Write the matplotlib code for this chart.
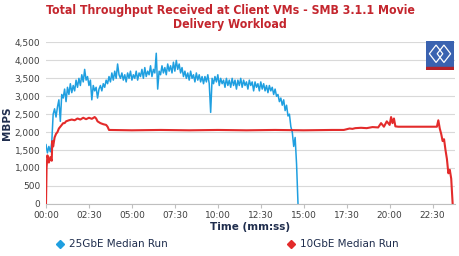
"""Total throughput received at client VMs - SMB 3.1.1 movie delivery workload."""

import matplotlib

matplotlib.use("Agg")
import matplotlib.pyplot as plt
from matplotlib.lines import Line2D
from matplotlib.patches import Polygon, Rectangle
from matplotlib.ticker import FuncFormatter, MultipleLocator

# 25GbE median run, sampled every 5 s (seconds, MBPS)
T_25 = list(range(0, 885, 5))
MBPS_25 = [
    1650, 1420, 1600, 1450, 1700, 2500, 2650, 2420, 2700, 2900, 2300, 3050,
    2950, 3200, 2850, 3250, 3050, 3350, 3100, 3300, 3150, 3450, 3250, 3500,
    3300, 3600, 3400, 3750, 3450, 3550, 3300, 3450, 2900, 3300, 3150, 3250,
    2950, 3200, 3300, 3150, 3350, 3250, 3450, 3350, 3550, 3400, 3650, 3450,
    3700, 3500, 3900, 3600, 3500, 3650, 3450, 3600, 3400, 3650, 3500, 3700,
    3450, 3600, 3500, 3700, 3450, 3650, 3550, 3750, 3500, 3800, 3550, 3700,
    3600, 3850, 3550, 3750, 3650, 4200, 3200, 3700, 3600, 3850, 3650, 3800,
    3600, 3900, 3700, 3850, 3650, 3950, 3700, 4000, 3750, 3900, 3650, 3800,
    3550, 3700, 3500, 3650, 3450, 3700, 3500, 3600, 3400, 3650, 3450, 3600,
    3400, 3550, 3350, 3550, 3400, 3600, 3350, 2550, 3500, 3350, 3550, 3400,
    3600, 3300, 3500, 3350, 3450, 3250, 3500, 3300, 3450, 3250, 3500, 3300,
    3450, 3200, 3450, 3300, 3500, 3250, 3450, 3300, 3400, 3200, 3450, 3300,
    3400, 3150, 3400, 3250, 3350, 3150, 3400, 3200, 3350, 3150, 3300, 3100,
    3300, 3150, 3250, 3050, 3200, 3000, 3050, 2850, 2950, 2750, 2900, 2600,
    2750, 2450, 2500, 2150, 2000, 1600, 1850, 1100, 0,
]

# 10GbE median run (seconds, MBPS)
T_10 = [
    0, 2, 5, 10, 15, 20, 22, 25, 30, 35, 40, 45, 50, 55, 60, 65, 70, 80, 90,
    100, 110, 120, 130, 140, 150, 160, 170, 175, 180, 190, 200, 210, 215, 220,
    300, 400, 500, 600, 700, 800, 900, 1000, 1040, 1050, 1060, 1070, 1080,
    1100, 1120, 1140, 1160, 1170, 1180, 1190, 1200, 1205, 1210, 1215, 1220,
    1230, 1300, 1360, 1365, 1370, 1375, 1380, 1385, 1390, 1395, 1400, 1405,
    1410, 1415, 1420,
]
MBPS_10 = [
    0, 1000, 1350, 1150, 1300, 1200, 1750, 1600, 1850, 1950, 2000, 2100, 2150,
    2200, 2250, 2250, 2300, 2330, 2350, 2330, 2380, 2350, 2400, 2360, 2400,
    2370, 2420, 2380, 2300, 2250, 2220, 2200, 2150, 2060,
    2050, 2060, 2050, 2060, 2050, 2060, 2050, 2060, 2060, 2080, 2100, 2090,
    2110, 2120, 2110, 2140, 2130, 2250, 2150, 2300, 2200, 2420, 2250, 2380,
    2160, 2150, 2150, 2150, 2150, 2330, 2100, 1950, 1750, 1800, 1500, 1250,
    850, 950, 700, 0,
]

BLUE = "#1f9fe0"
RED = "#e32b2b"
NAVY = "#1f2d4d"


def mmss(v, _pos):
    v = int(round(v))
    return f"{v // 60:02d}:{v % 60:02d}"


def main():
    fig = plt.figure(figsize=(4.6, 2.56), dpi=100)
    ax = fig.add_axes([0.1, 0.204, 0.889, 0.630])

    ax.plot(T_10, MBPS_10, color=RED, lw=1.5, zorder=3)
    ax.plot(T_25, MBPS_25, color=BLUE, lw=1.1, zorder=2)

    ax.set_xlim(0, 1428)
    ax.set_ylim(0, 4500)
    ax.xaxis.set_major_locator(MultipleLocator(150))
    ax.xaxis.set_major_formatter(FuncFormatter(mmss))
    ax.yaxis.set_major_locator(MultipleLocator(500))
    ax.yaxis.set_major_formatter(FuncFormatter(lambda v, p: f"{int(v):,}"))

    ax.grid(True, axis="y", color="#d9d9d9", lw=0.8)
    ax.set_axisbelow(True)
    for side in ("top", "right", "left"):
        ax.spines[side].set_visible(False)
    ax.spines["bottom"].set_color("#bfbfbf")
    ax.tick_params(axis="x", length=3, color="#bfbfbf", labelsize=6.5,
                   labelcolor="#404040", pad=2)
    ax.tick_params(axis="y", length=0, labelsize=6.5, labelcolor="#404040", pad=4)

    ax.set_xlabel("Time (mm:ss)", fontsize=7.5, fontweight="bold", color=NAVY,
                  labelpad=2)
    ax.set_ylabel("MBPS", fontsize=7.5, fontweight="bold", color=NAVY, labelpad=2)

    fig.text(0.5, 0.985,
             "Total Throughput Received at Client VMs - SMB 3.1.1 Movie\nDelivery Workload",
             ha="center", va="top", fontsize=8.8, fontweight="bold",
             fontstretch="condensed", color="#c4262e", linespacing=1.1)

    # logo in the top right corner
    lax = fig.add_axes([426 / 460, 1 - 70 / 256, 28 / 460, 29 / 256])
    lax.set_xlim(0, 1)
    lax.set_ylim(0, 1)
    lax.axis("off")
    lax.add_patch(Rectangle((0, 0.12), 1, 0.88, color="#3a62b0"))
    lax.add_patch(Rectangle((0, 0), 1, 0.12, color="#b5222a"))
    for cx in (0.36, 0.64):
        lax.add_patch(Polygon([(cx - 0.24, 0.56), (cx, 0.86), (cx + 0.24, 0.56),
                               (cx, 0.26)], fill=False, ec="white", lw=0.9))

    handles = [
        Line2D([], [], color=BLUE, marker="D", ls="none", markersize=4.5),
        Line2D([], [], color=RED, marker="D", ls="none", markersize=4.5),
    ]
    fig.legend(handles, ["25GbE Median Run", "10GbE Median Run"], ncol=2,
               loc="lower left", bbox_to_anchor=(0.1, -0.01), frameon=False,
               fontsize=7.5, labelcolor=NAVY, handlelength=0.8,
               handletextpad=0.5, columnspacing=11.4)

    fig.savefig("out.png", dpi=100)


if __name__ == "__main__":
    main()
